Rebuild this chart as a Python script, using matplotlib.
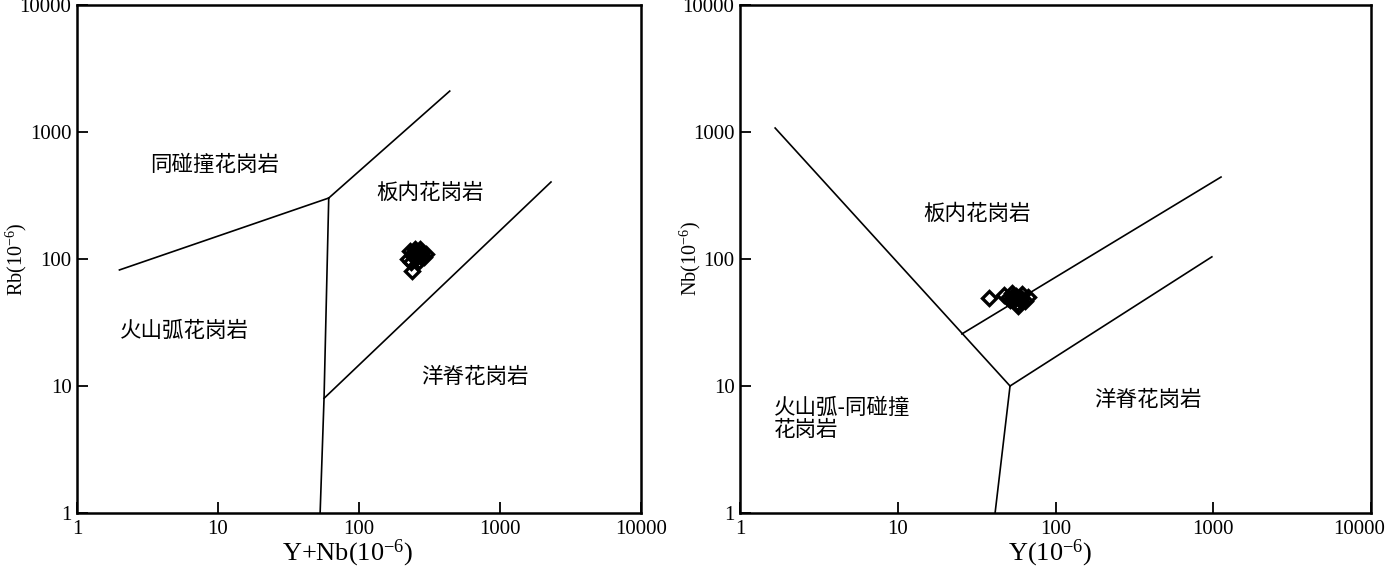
import matplotlib.pyplot as plt
from matplotlib.ticker import FixedLocator, NullLocator
from matplotlib.transforms import ScaledTranslation

plt.switch_backend('Agg')
plt.rcParams['font.family'] = ['Liberation Serif', 'Noto Sans CJK SC']
plt.rcParams['mathtext.fontset'] = 'custom'
plt.rcParams['mathtext.rm'] = 'Liberation Serif'
plt.rcParams['mathtext.it'] = 'Liberation Serif:italic'

# ticks shared by both diagrams
tick_vals = [1, 10, 100, 1000, 10000]
tick_labels = ['1', '10', '100', '1000', '10000']

# left diagram: Rb vs Y+Nb, sample points
ynb = [239, 230, 271, 254, 289, 242, 262, 280, 223, 267, 250, 299, 234, 258, 275, 245]
rb = [81, 116, 120, 102, 104, 106, 112, 114, 100, 97, 120, 109, 95, 109, 104, 113]

# field boundaries (Y+Nb, Rb)
left_lines = [
    ([2.0, 61], [82, 302]),
    ([61, 440], [302, 2100]),
    ([61, 56.5, 53], [302, 8.0, 1]),
    ([56.5, 2300], [8.0, 404]),
]
left_text = [
    ('同碰撞花岗岩', 9.5, 550),
    ('板内花岗岩', 319, 331),
    ('火山弧花岗岩', 5.8, 27),
    ('洋脊花岗岩', 665, 11.8),
]

# right diagram: Nb vs Y, sample points
y_vals = [38, 47, 54, 60, 64, 57, 51.5, 61, 53, 67, 50, 58, 56, 56, 60, 54]
nb_vals = [49, 52, 51, 49, 47, 45, 47.5, 53, 54, 50, 49, 43, 51, 49, 47, 48]

right_lines = [
    ([1.67, 51.5], [1075, 10]),
    ([51.5, 41.4], [10, 1]),
    ([51.5, 980], [10, 104]),
    ([25.5, 1120], [25.7, 442]),
]
right_text = [
    ('板内花岗岩', 32, 226),
    ('洋脊花岗岩', 386, 7.8),
]


def setupAxes(ax, xlabel, ylabel, xlab_x, ylab_x):
    ax.set_xscale('log')
    ax.set_yscale('log')
    ax.set_xlim(1, 10000)
    ax.set_ylim(1, 10000)
    for axis in (ax.xaxis, ax.yaxis):
        axis.set_major_locator(FixedLocator(tick_vals))
        axis.set_minor_locator(NullLocator())
    ax.set_xticklabels(tick_labels)
    ax.set_yticklabels(tick_labels)
    ax.tick_params(direction = 'in', length = 8, width = 1.3,
                   labelsize = 15, top = False, right = False)
    ax.tick_params(axis = 'x', pad = 5)
    ax.tick_params(axis = 'y', pad = 4)
    for sp in ax.spines.values():
        sp.set_linewidth(1.8)
    ax.set_xlabel(xlabel, fontsize = 19, va = 'center')
    ax.xaxis.set_label_coords(xlab_x, -0.08)
    ax.set_ylabel(ylabel, fontsize = 14.5, va = 'center')
    ax.yaxis.set_label_coords(ylab_x, 0.5)


def plotSamples(ax, xs, ys):
    ax.plot(xs, ys, linestyle = 'none', marker = 'D', markersize = 7.5,
            markerfacecolor = 'none', markeredgecolor = 'black',
            markeredgewidth = 2.4, zorder = 3)


fig = plt.figure(figsize = (13.86, 5.67), dpi = 100)
ax1 = fig.add_axes([77 / 1386, 54 / 567, 564 / 1386, 508 / 567])
ax2 = fig.add_axes([740 / 1386, 54 / 567, 631 / 1386, 508 / 567])

setupAxes(ax1, 'Y+Nb(10$^{-6}$)', 'Rb(10$^{-6}$)', 0.48, -0.108)
for xs, ys in left_lines:
    ax1.plot(xs, ys, color = 'black', lw = 1.2)
for txt, x, y in left_text:
    ax1.text(x, y, txt, fontsize = 15.5, family = 'Noto Sans CJK SC',
             ha = 'center', va = 'center')
plotSamples(ax1, ynb, rb)

setupAxes(ax2, 'Y(10$^{-6}$)', 'Nb(10$^{-6}$)', 0.491, -0.078)
for xs, ys in right_lines:
    ax2.plot(xs, ys, color = 'black', lw = 1.2)
for txt, x, y in right_text:
    ax2.text(x, y, txt, fontsize = 15.5, family = 'Noto Sans CJK SC',
             ha = 'center', va = 'center')
ax2.text(1.65, 5.5, '火山弧-同碰撞\n花岗岩', fontsize = 15.5,
         family = 'Noto Sans CJK SC', ha = 'left', va = 'center',
         linespacing = 0.95)
plotSamples(ax2, y_vals, nb_vals)

# last x label of the right diagram sits against the figure edge
last = ax2.get_xticklabels()[-1]
last.set_ha('right')
last.set_transform(last.get_transform() + ScaledTranslation(0.14, 0, fig.dpi_scale_trans))

fig.savefig('out.png', dpi = 100)
plt.close('all')
